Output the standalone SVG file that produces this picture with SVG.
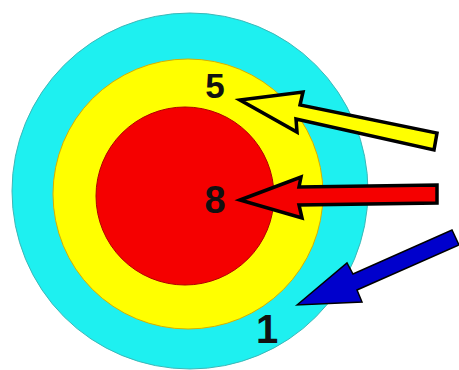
<svg xmlns="http://www.w3.org/2000/svg" width="459" height="370" viewBox="0 0 459 370">
<style>
.lbl{font-family:"Liberation Sans",Arial,sans-serif;font-weight:bold;fill:#111;text-anchor:middle}
.arr{stroke:#000;stroke-linejoin:miter}
</style>
<rect width="459" height="370" fill="#fff"/>
<g id="ring1"><circle cx="190" cy="191" r="178" fill="#1EF0F0" stroke="#3AB8B8" stroke-width="1"/></g>
<g id="ring5"><circle cx="188" cy="194" r="135" fill="#FFFF00" stroke="#D8B000" stroke-width="1"/></g>
<g id="ring8"><circle cx="185" cy="196" r="89" fill="#F50000" stroke="#B00000" stroke-width="1"/></g>
<g id="connectors">
<polygon class="arr" fill="#FFFF00" stroke-width="3.5" points="240,100 303,92 300,105 437,133 434,150 296,119 297,132"/>
<polygon class="arr" fill="#F50000" stroke-width="3.5" points="240,200 301,177 299,187 437,185 437,203 299,205 302,218"/>
<polygon class="arr" fill="#0000CC" stroke-width="1.5" points="297,305 347,263 353,274 452,230 459,245 357,290 362,302"/>
</g>
<g id="label5"><text class="lbl" x="215" y="98" font-size="35">5</text></g>
<g id="label8"><text class="lbl" x="215" y="213" font-size="38">8</text></g>
<g id="label1"><text class="lbl" x="267" y="343" font-size="40">1</text></g>
</svg>
